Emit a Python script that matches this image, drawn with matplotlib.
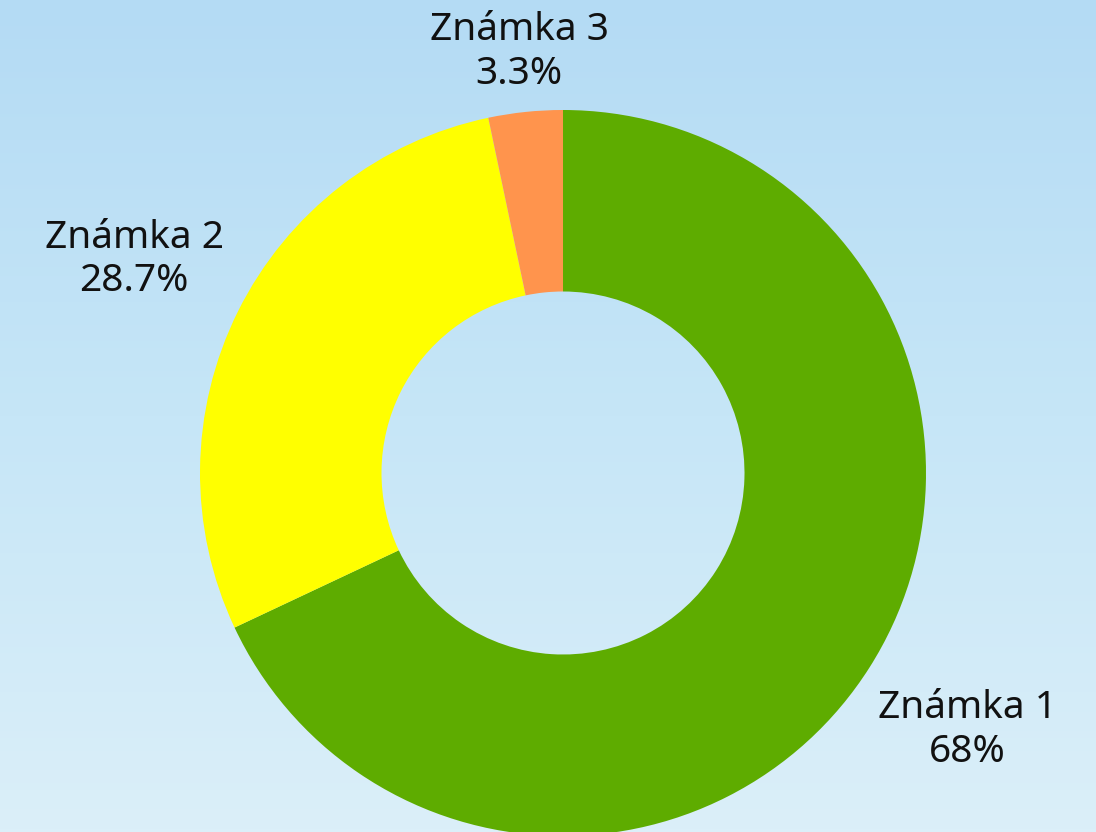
import numpy as np
import matplotlib
matplotlib.use("Agg")
import matplotlib.pyplot as plt
from matplotlib.colors import LinearSegmentedColormap

labels = ["Známka 1", "Známka 2", "Známka 3"]
values = [68, 28.7, 3.3]
pct_text = ["68%", "28.7%", "3.3%"]
colors = ["#5eac00", "#ffff00", "#ff944d"]
label_dist = [1.32, 1.32, 1.165]

plt.rcParams['font.family'] = ['Noto Sans', 'DejaVu Sans']

W, H = 1096, 832
fig = plt.figure(figsize=(W / 100, H / 100), dpi=100)
ax = fig.add_axes([0, 0, 1, 1])

# sky background
sky = LinearSegmentedColormap.from_list("sky", ["#dbeff9", "#c6e6f7", "#b4dbf4"])
grad = np.linspace(0, 1, 256).reshape(-1, 1)
ax.imshow(grad, extent=(0, W, 0, H), origin="lower", cmap=sky, aspect="auto", zorder=0)

cx, cy, r = 563, H - 473, 363
wedges, _ = ax.pie(values, colors=colors, startangle=90, counterclock=False,
                   radius=r, center=(cx, cy), labeldistance=None,
                   wedgeprops=dict(width=r * 0.5, linewidth=0), frame=True)
for w in wedges:
    w.set_zorder(2)

for w, lab, pct, d in zip(wedges, labels, pct_text, label_dist):
    ang = np.deg2rad((w.theta1 + w.theta2) / 2)
    x = cx + d * r * np.cos(ang)
    y = cy + d * r * np.sin(ang)
    ax.text(x, y, f"{lab}\n{pct}", ha="center", va="center", fontsize=28,
            linespacing=1.2, color="#111111", zorder=3)

ax.set_xlim(0, W)
ax.set_ylim(0, H)
ax.set_aspect("equal")
ax.axis("off")

fig.savefig("out.png", dpi=100)
